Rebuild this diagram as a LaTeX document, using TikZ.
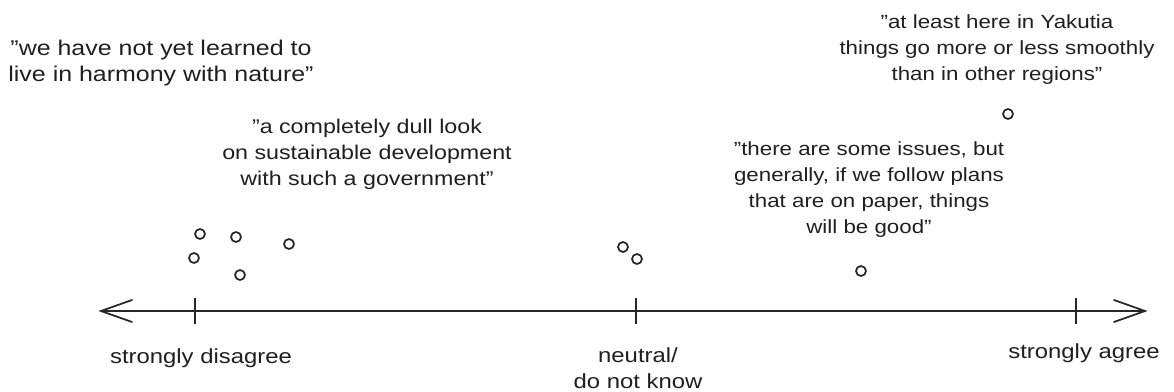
\documentclass[tikz,border=0pt]{standalone}
\usepackage{fontspec}
\setmainfont{Liberation Sans}[FakeStretch=1.17]
\newcommand{\dq}{\symbol{34}}
\begin{document}
\begin{tikzpicture}[x=0.75pt,y=-0.75pt,
  quote/.style={align=center,font=\fontsize{#1}{19.5}\selectfont,inner sep=0pt,text=black!88},
  quote/.default=16,
  lbl/.style={align=center,font=\fontsize{15.3}{19.5}\selectfont,inner sep=0pt,text=black!88},
  dot/.style={circle,draw=black!85,line width=1.3pt,minimum size=7.5pt,inner sep=0pt},
  axisline/.style={line width=1.3pt,draw=black!85,line cap=round},
  tickmark/.style={line width=1.3pt,draw=black!85}]
\useasboundingbox (0,0) rectangle (1174,392);
% axis
\coordinate (L) at (101,311);
\coordinate (R) at (1145,311);
\draw[axisline] (L) -- (R);
\draw[axisline] ([shift={(31,-11)}]L) -- (L) -- ([shift={(31,11)}]L);
\draw[axisline] ([shift={(-31,-11)}]R) -- (R) -- ([shift={(-31,11)}]R);
% ticks
\coordinate (t1) at (195,311);
\coordinate (t2) at (636,311);
\coordinate (t3) at (1076,311);
\foreach \t in {t1,t2,t3}{\draw[tickmark] ([yshift=-10]\t) -- ([yshift=10]\t);}
% labels
\node[lbl] (sd) at (201,358) {strongly disagree};
\node[lbl] (nt) at (638,368) {neutral/\\do not know};
\node[lbl] (sa) at (1084,353) {strongly agree};
% dots
\node[dot] (d1) at (200,234) {};
\node[dot] (d2) at (236,237) {};
\node[dot] (d3) at (289,244) {};
\node[dot] (d4) at (194,258) {};
\node[dot] (d5) at (240,275) {};
\node[dot] (d6) at (623,247) {};
\node[dot] (d7) at (637,259) {};
\node[dot] (d8) at (861,271) {};
\node[dot] (d9) at (1008,114) {};
% quotes
\node[quote=16] (q1) at (161,63) {\dq we have not yet learned to\\live in harmony with nature\dq};
\node[quote=14.9] (q2) at (367,154) {\dq a completely dull look\\on sustainable development\\with such a government\dq};
\node[quote=14.3] (q3) at (869,190) {\dq there are some issues, but\\generally, if we follow plans\\that are on paper, things\\will be good\dq};
\node[quote=14.3] (q4) at (997,50) {\dq at least here in Yakutia\\things go more or less smoothly\\than in other regions\dq};
\end{tikzpicture}
\end{document}
